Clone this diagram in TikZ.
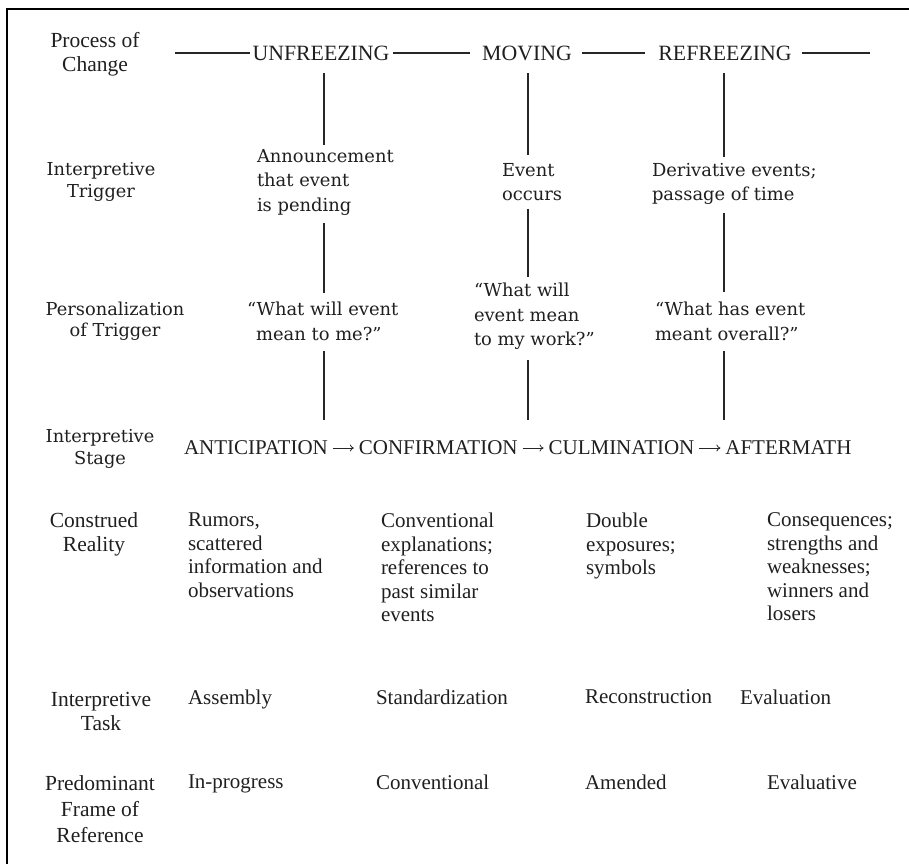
\documentclass[tikz,border=0pt]{standalone}
\usepackage{fontspec}
\usetikzlibrary{arrows.meta,positioning}
\newfontfamily\narrowserif{Liberation Serif}
\newfontfamily\wideserif{DejaVu Serif}

\begin{document}
\begin{tikzpicture}[x=1pt,y=-1pt,
  every node/.style={inner sep=0pt, outer sep=0pt, text=black!88},
  phase/.style={font=\narrowserif\fontsize{21.8}{22}\selectfont},
  stage/.style={font=\narrowserif\fontsize{21}{22}\selectfont},
  widelabel/.style={align=center, font=\wideserif\fontsize{17.8}{21.5}\selectfont},
  narrowlabel/.style={align=center, font=\narrowserif\fontsize{21.5}{24}\selectfont},
  wtext/.style={align=left, anchor=north west, font=\wideserif\fontsize{17.9}{24.5}\selectfont},
  ntext/.style={align=left, anchor=north west, font=\narrowserif\fontsize{21}{23.5}\selectfont},
  vline/.style={line width=1.1pt, draw=black!85},
  stagearrow/.style={line width=0.8pt, draw=black!85, -{To[length=4pt,width=7pt]}, shorten <=5pt, shorten >=5pt},
]
\useasboundingbox (0,0) rectangle (909,864);
% page frame
\draw[line width=1.2pt] (7,864) -- (7,9) -- (909,9);

% row labels
\node[narrowlabel] (lab1) at (95,54) {Process of\\Change};
\node[widelabel] (lab2) at (101,182) {Interpretive\\Trigger};
\node[widelabel] (lab3) at (115,321) {Personalization\\of Trigger};
\node[widelabel] (lab4) at (100,449) {Interpretive\\Stage};
\node[narrowlabel] (lab5) at (94,534) {Construed\\Reality};
\node[narrowlabel] (lab6) at (101,711) {Interpretive\\Task};
\node[narrowlabel, font=\narrowserif\fontsize{21.5}{26}\selectfont] (lab7) at (100,809) {Predominant\\Frame of\\Reference};

% process of change
\coordinate (l0) at (175,53);
\coordinate (r0) at (870,53);
\node[phase] (u) at (321,53) {UNFREEZING};
\node[phase] (m) at (527,53) {MOVING};
\node[phase] (r) at (725,53) {REFREEZING};
\draw[vline, shorten >=3pt] (l0) -- (u.west);
\draw[vline, shorten <=4pt, shorten >=12pt] (u.east) -- (m.west);
\draw[vline, shorten <=10pt, shorten >=13pt] (m.east) -- (r.west);
\draw[vline, shorten <=10pt] (r.east) -- (r0);

% interpretive triggers
\node[wtext] (t1) at (257,149) {Announcement\\that event\\is pending};
\node[wtext] (t2) at (502,163) {Event\\occurs};
\node[wtext] (t3) at (652,163) {Derivative events;\\passage of time};

% personalization of trigger
\node[wtext] (q1) at (247,302) {“What will event\\\hphantom{“}mean to me?”};
\node[wtext] (q2) at (474,283) {“What will\\event mean\\to my work?”};
\node[wtext] (q3) at (655,302) {“What has event\\meant overall?”};

% interpretive stages
\node[stage, anchor=west] (s1) at (184,448) {ANTICIPATION};
\node[stage, right=31pt of s1] (s2) {CONFIRMATION};
\node[stage, right=31pt of s2] (s3) {CULMINATION};
\node[stage, right=31pt of s3] (s4) {AFTERMATH};
\draw[stagearrow] (s1) -- (s2);
\draw[stagearrow] (s2) -- (s3);
\draw[stagearrow] (s3) -- (s4);

% vertical ties through the three phases
\coordinate (k1) at (324,0);
\coordinate (k2) at (528,0);
\coordinate (k3) at (724,0);
\draw[vline, shorten <=12.7pt, shorten >=4pt] (u.south -| k1) -- (t1.north -| k1);
\draw[vline, shorten <=8pt, shorten >=9pt] (t1.south -| k1) -- (q1.north -| k1);
\draw[vline, shorten <=10.5pt, shorten >=21pt] (q1.south -| k1) -- (s1.north -| k1);
\draw[vline, shorten <=12.7pt, shorten >=8pt] (m.south -| k2) -- (t2.north -| k2);
\draw[vline, shorten <=7.7pt, shorten >=6pt] (t2.south -| k2) -- (q2.north -| k2);
\draw[vline, shorten <=10.6pt, shorten >=21pt] (q2.south -| k2) -- (s2.north -| k2);
\draw[vline, shorten <=12.7pt, shorten >=6pt] (r.south -| k3) -- (t3.north -| k3);
\draw[vline, shorten <=8.6pt, shorten >=10pt] (t3.south -| k3) -- (q3.north -| k3);
\draw[vline, shorten <=10.5pt, shorten >=21pt] (q3.south -| k3) -- (s3.north -| k3);

% construed reality
\node[ntext] (c1) at (188,513) {Rumors,\\scattered\\information and\\observations};
\node[ntext] (c2) at (381,513) {Conventional\\explanations;\\references to\\past similar\\events};
\node[ntext] (c3) at (586,513) {Double\\exposures;\\symbols};
\node[ntext] (c4) at (767,513) {Consequences;\\strengths and\\weaknesses;\\winners and\\losers};

% interpretive task
\node[ntext] (a1) at (188,690) {Assembly};
\node[ntext] (a2) at (376,690) {Standardization};
\node[ntext] (a3) at (585,690) {Reconstruction};
\node[ntext] (a4) at (740,690) {Evaluation};

% predominant frame of reference
\node[ntext] (f1) at (188,775) {In-progress};
\node[ntext] (f2) at (376,775) {Conventional};
\node[ntext] (f3) at (585,775) {Amended};
\node[ntext] (f4) at (767,775) {Evaluative};
\end{tikzpicture}
\end{document}
